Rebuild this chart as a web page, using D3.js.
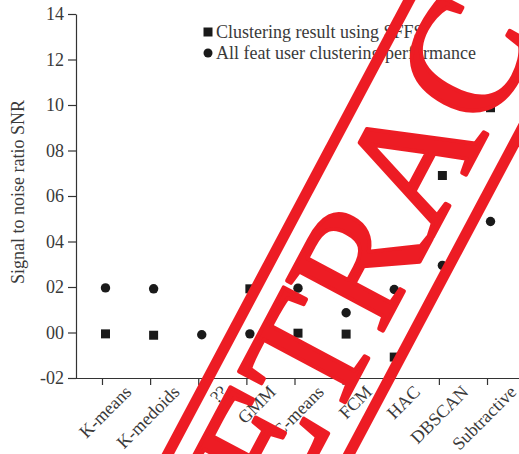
<!DOCTYPE html>
<html>
<head>
<meta charset="utf-8">
<script src="https://cdn.jsdelivr.net/npm/d3@7"></script>
<style>
body { margin: 0; background: #fff; }
text { font-family: "Liberation Serif", "Times New Roman", serif; }
</style>
</head>
<body>
<div id="chart-area"></div>
<script>
// Data
var methods = ["K-means", "K-medoids", "??", "GMM", "C-means", "FCM", "HAC", "DBSCAN", "Subtractive"];
var sffsValues = [-0.006, -0.012, null, 0.192, -0.003, -0.007, -0.108, 0.69, 0.988];
var allFeatValues = [0.196, 0.192, -0.010, -0.006, 0.195, 0.087, 0.189, 0.295, 0.488];
var yTicks = [-0.2, 0, 0.2, 0.4, 0.6, 0.8, 1.0, 1.2, 1.4];
var legendLabels = ["Clustering result using SFFS", "All feat user clustering performance"];
var yTitle = "Signal to noise ratio SNR";
var stampText = "RETRACTED";

var margin = { left:76, right:6, top:14, bottom:76 },
    width = 519 - margin.left - margin.right,
    height = 454 - margin.top - margin.bottom;

var svg = d3.select("#chart-area")
    .append("svg")
    .attr("width", width + margin.left + margin.right)
    .attr("height", height + margin.top + margin.bottom);
var g = svg.append("g")
    .attr("transform", "translate(" + margin.left + "," + margin.top + ")");

var textColor = "#3a3a3a",
    axisColor = "#333",
    markColor = "#1a1a1a",
    stampColor = "#ed1c24";

// Scales
var x = d3.scalePoint().domain(methods).range([0, width]).padding(0.54);
var y = d3.scaleLinear().domain([-0.2, 1.4]).range([height, 0]);
var markShift = 3.5; // markers sit a little right of their ticks

var fmt = function(v) {
    var n = Math.round(v * 10);
    return (n < 0 ? "-" : "") + String(Math.abs(n)).padStart(2, "0");
};

// Y-axis
var yAxis = g.append("g")
    .attr("class", "y axis")
    .call(d3.axisLeft(y).tickValues(yTicks).tickFormat(fmt).tickSize(8).tickSizeOuter(0).tickPadding(4));

// X-axis
var xAxis = g.append("g")
    .attr("class", "x axis")
    .attr("transform", "translate(0," + height + ")")
    .call(d3.axisBottom(x).tickSize(7).tickSizeOuter(0));
xAxis.select(".domain").attr("d", "M0,0.5H" + (width + margin.right));
xAxis.selectAll(".tick text")
    .attr("text-anchor", "end")
    .attr("y", 0).attr("dy", 0)
    .attr("transform", "translate(30,15) rotate(-45)");

g.selectAll(".axis path, .axis line").attr("stroke", axisColor).attr("stroke-width", 1.2);
g.selectAll(".axis text").attr("fill", textColor).attr("font-size", "18px")
    .attr("font-family", "Liberation Serif");

// Y label
g.append("text")
    .attr("transform", "rotate(-90)")
    .attr("x", -(192 - margin.top))
    .attr("y", 24 - margin.left)
    .attr("text-anchor", "middle")
    .attr("font-size", "18px")
    .attr("fill", textColor)
    .text(yTitle);

// Points
var sym = d3.symbol().type(d3.symbolSquare).size(81);
g.selectAll(".sq")
    .data(methods.map(function(m, i) { return { m: m, v: sffsValues[i] }; })
        .filter(function(d) { return d.v !== null; }))
    .enter().append("path")
    .attr("class", "sq")
    .attr("d", sym)
    .attr("fill", markColor)
    .attr("transform", function(d) { return "translate(" + (x(d.m) + markShift) + "," + y(d.v) + ")"; });

g.selectAll(".dot")
    .data(methods.map(function(m, i) { return { m: m, v: allFeatValues[i] }; }))
    .enter().append("circle")
    .attr("class", "dot")
    .attr("r", 4.7)
    .attr("fill", markColor)
    .attr("cx", function(d) { return x(d.m) + markShift; })
    .attr("cy", function(d) { return y(d.v); });

// Legend
var legend = svg.append("g").attr("transform", "translate(208,32)");
legendLabels.forEach(function(lab, i) {
    var row = legend.append("g").attr("transform", "translate(0," + (i * 21) + ")");
    if (i === 0) {
        row.append("path").attr("d", sym).attr("fill", markColor);
    } else {
        row.append("circle").attr("r", 4.5).attr("fill", markColor);
    }
    row.append("text")
        .attr("x", 8)
        .attr("y", 5.5)
        .attr("font-size", "18px")
        .attr("fill", textColor)
        .text(lab);
});

// Retraction stamp
var stamp = svg.append("g")
    .attr("transform", "translate(462,182) rotate(-62)");
stamp.append("rect")
    .attr("x", -1000).attr("y", -137.5).attr("width", 2000).attr("height", 11)
    .attr("fill", stampColor);
stamp.append("rect")
    .attr("x", -1000).attr("y", 22.5).attr("width", 2000).attr("height", 11)
    .attr("fill", stampColor);
stamp.append("text")
    .attr("text-anchor", "middle")
    .attr("font-size", "165px")
    .attr("fill", stampColor)
    .attr("stroke", stampColor)
    .attr("stroke-width", 4)
    .attr("stroke-linejoin", "round")
    .text(stampText);
</script>
</body>
</html>
